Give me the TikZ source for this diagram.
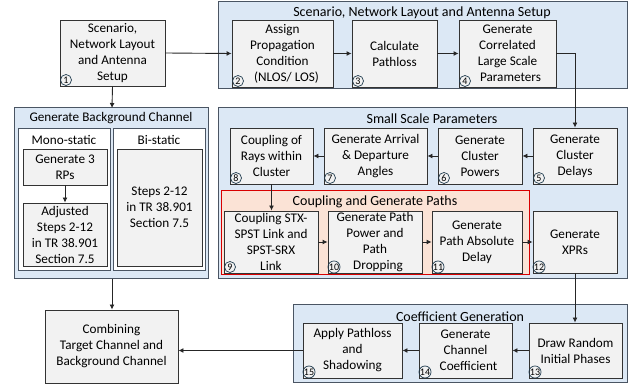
\documentclass[tikz,border=0pt]{standalone}
\usepackage{fontspec}
\setmainfont{Carlito}
\usetikzlibrary{arrows.meta}
\definecolor{grpblue}{HTML}{DCE8F5}
\definecolor{grpedge}{HTML}{4A5563}
\definecolor{boxfill}{HTML}{F2F2F2}
\definecolor{redfill}{HTML}{FBE3D6}
\definecolor{numedge}{HTML}{1F3A4D}
\tikzset{
  grp/.style={draw=grpedge, fill=grpblue, line width=1pt},
  redgrp/.style={draw=red!85!black, fill=redfill, line width=1pt},
  whitebox/.style={draw=grpedge, fill=white, line width=0.8pt},
  stepbox/.style={draw=black!80, fill=boxfill, line width=0.9pt, align=center, inner sep=1pt,
    font=\fontsize{13.2}{16}\selectfont},
  gtitle/.style={font=\fontsize{14}{16}\selectfont, inner sep=0pt},
  stitle/.style={font=\fontsize{13.2}{16}\selectfont, inner sep=0pt},
  num/.style={draw=numedge, circle, inner sep=0pt, minimum size=11pt, line width=0.7pt,
    font=\fontsize{10}{10}\selectfont},
  arr/.style={-{Latex[length=5pt,width=5pt]}, line width=0.9pt, black!85}
}
\newcommand{\bx}[6]{% name, x1,y1,x2,y2, text
  \node[stepbox, minimum width=#4pt-#2pt, minimum height=#5pt-#3pt] (#1) at ({(#2+#4)/2},{(#3+#5)/2}) {#6};}
\newcommand{\nm}[4]{% name, x, y, number
  \node[num] (#1) at (#2,#3) {#4};}
\begin{document}
\begin{tikzpicture}[x=1pt,y=-1pt]
\useasboundingbox (0,0) rectangle (638,390);
% groups
\draw[grp] (218,2) rectangle (627,89);
\node[gtitle] (t1) at (422,13) {Scenario, Network Layout and Antenna Setup};
\draw[grp] (14,108) rectangle (208,279);
\node[stitle] (t2) at (111,118) {Generate Background Channel};
\draw[whitebox] (18,128) rectangle (110,270);
\draw[whitebox] (113,128) rectangle (205,270);
\node[stitle] (tm) at (64,140) {Mono-static};
\node[stitle] (tb) at (159,140) {Bi-static};
\draw[grp] (218,108) rectangle (627,279);
\node[gtitle] (t3) at (432,119) {Small Scale Parameters};
\draw[redgrp] (221,191) rectangle (529,275);
\node[gtitle] (t4) at (375,202) {Coupling and Generate Paths};
\draw[grp] (293,305) rectangle (627,383);
\node[gtitle] (t5) at (460,317) {Coefficient Generation};
% boxes
\bx{b1}{60}{20}{165}{86}{Scenario,\\Network Layout\\and Antenna\\Setup}
\bx{b2}{232}{20}{333}{87}{Assign\\Propagation\\Condition\\\hspace*{8pt}(NLOS/ LOS)}
\bx{b3}{352}{20}{437}{87}{Calculate\\Pathloss}
\bx{b4}{459}{20}{556}{87}{Generate\\Correlated\\Large Scale\\\hspace*{6pt}Parameters}
\bx{rp}{23}{149}{107}{185}{Generate 3\\RPs}
\bx{adj}{23}{203}{107}{266}{Adjusted\\Steps 2-12\\in TR 38.901\\Section 7.5}
\bx{bi}{117}{149}{202}{266}{Steps 2-12\\in TR 38.901\\Section 7.5}
\bx{b8}{230}{128}{313}{184}{Coupling of\\Rays within\\Cluster}
\bx{b7}{324}{128}{427}{184}{Generate Arrival\\\& Departure\\Angles}
\bx{b6}{438}{128}{522}{184}{Generate\\Cluster\\Powers}
\bx{b5}{533}{128}{617}{184}{Generate\\Cluster\\Delays}
\bx{b9}{224}{211}{318}{273}{Coupling STX-\\SPST Link and\\SPST-SRX\\Link}
\bx{b10}{328}{211}{422}{273}{Generate Path\\Power and\\Path\\\hspace*{6pt}Dropping}
\bx{b11}{432}{211}{522}{273}{Generate\\Path Absolute\\Delay}
\bx{b12}{533}{211}{617}{273}{Generate\\XPRs}
\bx{b15}{303}{323}{402}{378}{Apply Pathloss\\and\\Shadowing}
\bx{b14}{419}{323}{512}{378}{Generate\\Channel\\\hspace*{6pt}Coefficient}
\bx{b13}{529}{323}{622}{378}{Draw Random\\Initial Phases}
\bx{cmb}{45}{310}{178}{383}{Combining\\Target Channel and\\Background Channel}
% numbers
\nm{n1}{66}{80}{1}
\nm{n2}{238}{81}{2}
\nm{n3}{358}{81}{3}
\nm{n4}{465}{81}{4}
\nm{n5}{539}{178}{5}
\nm{n6}{444}{178}{6}
\nm{n7}{330}{178}{7}
\nm{n8}{236}{178}{8}
\nm{n9}{230}{267}{9}
\nm{n10}{334}{267}{10}
\nm{n11}{438}{267}{11}
\nm{n12}{539}{267}{12}
\nm{n13}{535}{372}{13}
\nm{n14}{425}{372}{14}
\nm{n15}{309}{372}{15}
% connectors
\coordinate (g2top) at (112,108);
\coordinate (g2bot) at (112,279);
\draw[arr] (b1.east) -- (b2.west);
\draw[arr] (b2.east) -- (b3.west);
\draw[arr] (b3.east) -- (b4.west);
\draw[arr] (b4.east) -| (b5.north);
\draw[arr] (b1.south) -- (g2top);
\draw[arr] (rp.south) -- (adj.north);
\draw[arr] (g2bot) -- (cmb.north -| g2bot);
\draw[arr] (b5.west) -- (b6.east);
\draw[arr] (b6.west) -- (b7.east);
\draw[arr] (b7.west) -- (b8.east);
\draw[arr] (b8.south) -- (b8.south |- b9.north);
\draw[arr] (b9.east) -- (b10.west);
\draw[arr] (b10.east) -- (b11.west);
\draw[arr] (b11.east) -- (b12.west);
\draw[arr] (b12.south) -- (b12.south |- b13.north);
\draw[arr] (b13.west) -- (b14.east);
\draw[arr] (b14.west) -- (b15.east);
\draw[arr] (b15.west) -- (cmb.east |- b15.west);
\end{tikzpicture}
\end{document}
